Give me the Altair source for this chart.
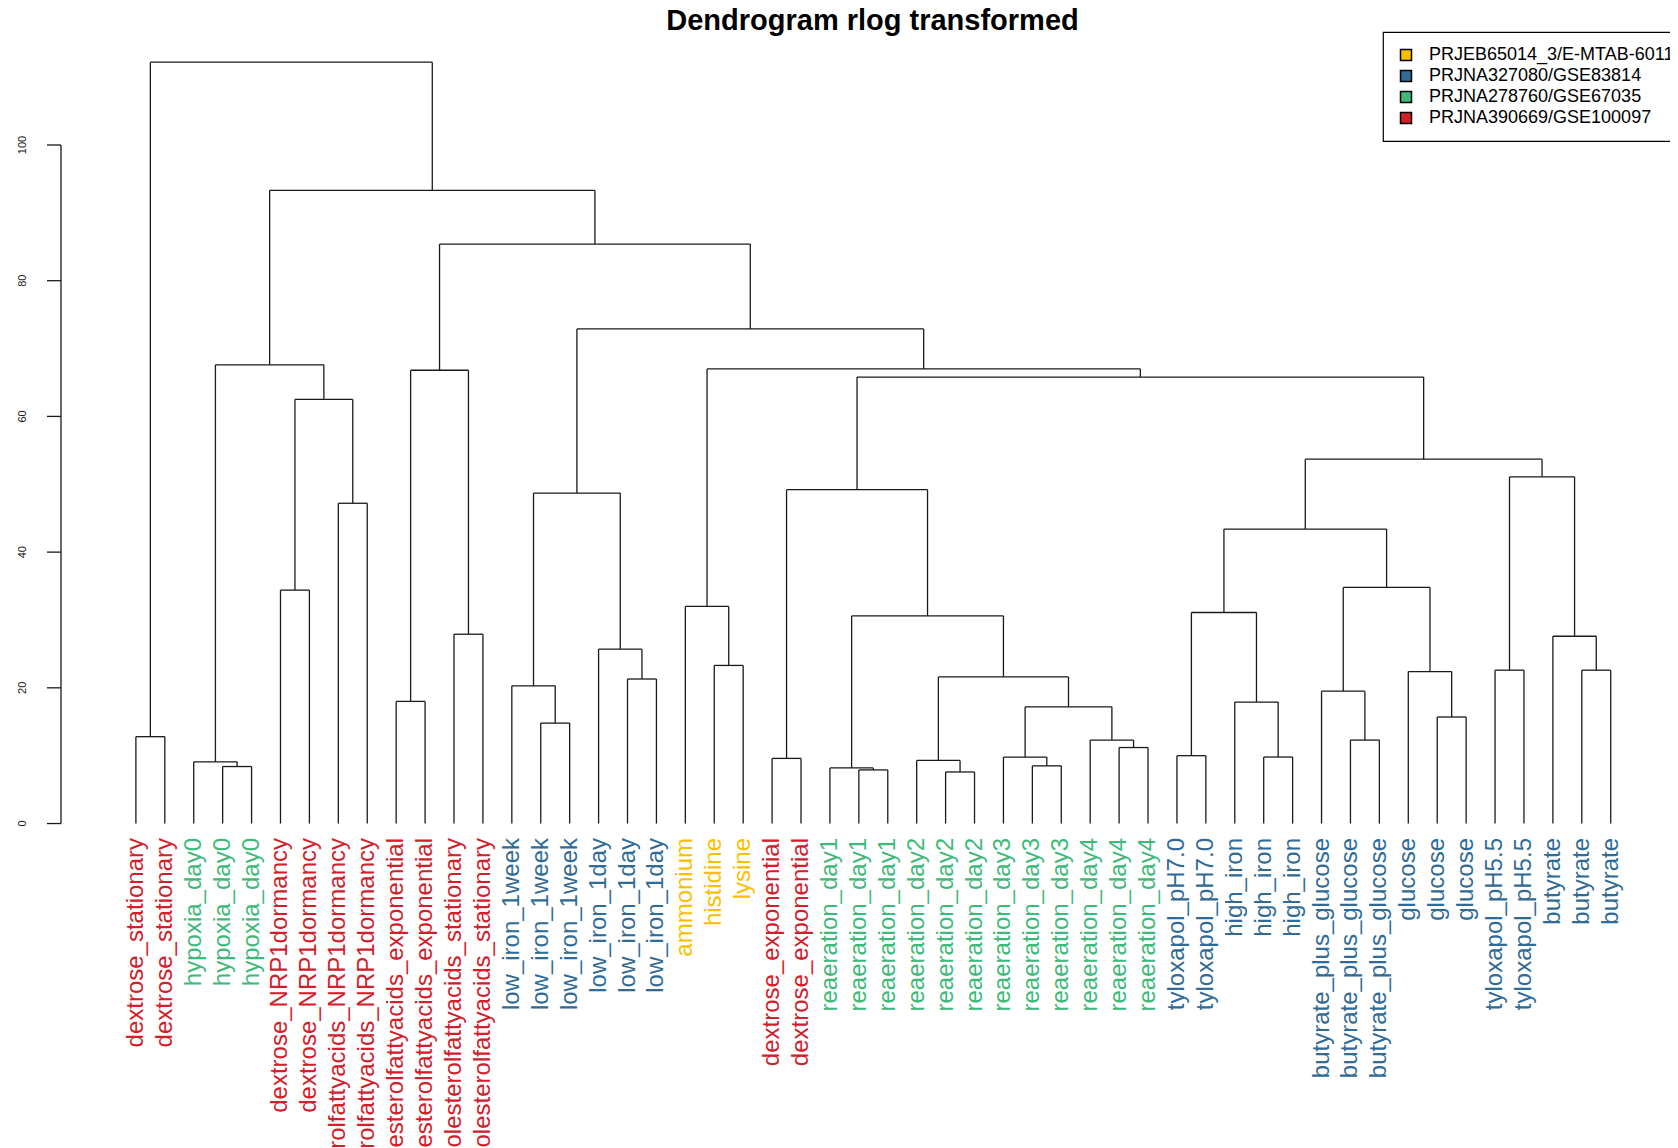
import altair as alt
import pandas as pd

# ---------------- data ----------------
leaf_labels = [
    "dextrose_stationary", "dextrose_stationary",
    "hypoxia_day0", "hypoxia_day0", "hypoxia_day0",
    "dextrose_NRP1dormancy", "dextrose_NRP1dormancy",
    "cholesterolfattyacids_NRP1dormancy", "cholesterolfattyacids_NRP1dormancy",
    "cholesterolfattyacids_exponential", "cholesterolfattyacids_exponential",
    "cholesterolfattyacids_stationary", "cholesterolfattyacids_stationary",
    "low_iron_1week", "low_iron_1week", "low_iron_1week",
    "low_iron_1day", "low_iron_1day", "low_iron_1day",
    "ammonium", "histidine", "lysine",
    "dextrose_exponential", "dextrose_exponential",
    "reaeration_day1", "reaeration_day1", "reaeration_day1",
    "reaeration_day2", "reaeration_day2", "reaeration_day2",
    "reaeration_day3", "reaeration_day3", "reaeration_day3",
    "reaeration_day4", "reaeration_day4", "reaeration_day4",
    "tyloxapol_pH7.0", "tyloxapol_pH7.0",
    "high_iron", "high_iron", "high_iron",
    "butyrate_plus_glucose", "butyrate_plus_glucose", "butyrate_plus_glucose",
    "glucose", "glucose", "glucose",
    "tyloxapol_pH5.5", "tyloxapol_pH5.5",
    "butyrate", "butyrate", "butyrate",
]
# 0 = PRJEB65014_3, 1 = PRJNA327080, 2 = PRJNA278760, 3 = PRJNA390669
leaf_groups = [
    3, 3,
    2, 2, 2,
    3, 3,
    3, 3,
    3, 3,
    3, 3,
    1, 1, 1,
    1, 1, 1,
    0, 0, 0,
    3, 3,
    2, 2, 2,
    2, 2, 2,
    2, 2, 2,
    2, 2, 2,
    1, 1,
    1, 1, 1,
    1, 1, 1,
    1, 1, 1,
    1, 1,
    1, 1, 1,
]
group_names = ["PRJEB65014_3/E-MTAB-6011", "PRJNA327080/GSE83814",
               "PRJNA278760/GSE67035", "PRJNA390669/GSE100097"]
group_colors = ["#F8BF00", "#2F6B96", "#3DB97A", "#D2202A"]

# hclust-style merges: negative = leaf (1-based, display order), positive = earlier merge
merge_left = [-1, -4, -3, -6, -8, 4, 3, -10, -12, 8,
              -15, -14, -18, -17, 12, -21, -20, -23, -26, -25,
              -29, -28, -32, -31, -35, -34, 24, 22, 20, 18,
              -37, -40, -39, 31, -43, -42, -46, -45, 36, 34,
              -48, -51, -50, 41, 40, 30, 17, 15, 10, 7, 1]
merge_right = [-2, -5, 2, -7, -9, 5, 6, -11, -13, 9,
               -16, 11, -19, 13, 14, -22, 16, -24, -27, 19,
               -30, 21, -33, 23, -36, 25, 26, 27, 28, 29,
               -38, -41, 32, 33, -44, 35, -47, 37, 38, 39,
               -49, -52, 42, 43, 44, 45, 46, 47, 48, 49, 50]
merge_height = [12.8, 8.4, 9.1, 34.4, 47.2, 62.5, 67.6, 18.0, 27.9, 66.8,
                14.8, 20.3, 21.3, 25.7, 48.7, 23.3, 32.0, 9.6, 7.9, 8.2,
                7.6, 9.3, 8.5, 9.8, 11.2, 12.3, 17.2, 21.6, 30.6, 49.2,
                10.0, 9.8, 17.9, 31.1, 12.3, 19.5, 15.7, 22.4, 34.8, 43.4,
                22.6, 22.6, 27.6, 51.1, 53.7, 65.8, 67.0, 72.9, 85.4, 93.3, 112.2]

y_ticks = [0, 20, 40, 60, 80, 100]
title_text = "Dendrogram rlog transformed"

# ---------------- build segments from the tree ----------------
pos = {}
segs = []


def node(ref):
    if ref < 0:
        return float(-ref), 0.0
    return pos[ref], merge_height[ref - 1]


for k, (a, b, h) in enumerate(zip(merge_left, merge_right, merge_height), start=1):
    xa, ha = node(a)
    xb, hb = node(b)
    segs.append(dict(x=xa, x2=xa, y=ha, y2=h))
    segs.append(dict(x=xa, x2=xb, y=h, y2=h))
    segs.append(dict(x=xb, x2=xb, y=hb, y2=h))
    pos[k] = (xa + xb) / 2

seg_df = pd.DataFrame(segs)
leaf_df = pd.DataFrame({
    "pos": list(range(1, len(leaf_labels) + 1)),
    "label": leaf_labels,
    "group": [group_names[g] for g in leaf_groups],
})
tick_df = pd.DataFrame({"v": y_ticks})
axis_df = pd.DataFrame({"y": [min(y_ticks)], "y2": [max(y_ticks)]})

x_scale = alt.Scale(domain=[-1.59, 54.05], nice=False, zero=False)
y_scale = alt.Scale(domain=[-4.49, 116.8], nice=False, zero=False)
FONT = "Liberation Sans"

tree = alt.Chart(seg_df).mark_rule(color="#1a1a1a", strokeWidth=1.3).encode(
    x=alt.X("x:Q", scale=x_scale, axis=None),
    x2="x2:Q",
    y=alt.Y("y:Q", scale=y_scale, axis=None),
    y2="y2:Q",
)

labels = alt.Chart(leaf_df).mark_text(
    angle=270, align="right", baseline="middle", fontSize=24, font=FONT
).encode(
    x=alt.X("pos:Q", scale=x_scale, axis=None),
    y=alt.value(807),
    text="label:N",
    color=alt.Color(
        "group:N",
        scale=alt.Scale(domain=group_names, range=group_colors),
        legend=alt.Legend(
            title=None, orient="none", legendX=1322, legendY=1,
            strokeColor="black", padding=14,
            symbolType="square", symbolSize=121, symbolStrokeColor="black",
            symbolStrokeWidth=1.5, symbolOpacity=1,
            labelFont=FONT, labelFontSize=18, labelColor="black",
            labelOffset=14, rowPadding=3, labelLimit=400,
        ),
    ),
)

axis_line = alt.Chart(axis_df).mark_rule(color="#1a1a1a", strokeWidth=1.3).encode(
    x=alt.value(0),
    y=alt.Y("y:Q", scale=y_scale, axis=None),
    y2="y2:Q",
)
ticks = alt.Chart(tick_df).mark_rule(color="#1a1a1a", strokeWidth=1.3).encode(
    x=alt.value(-14), x2=alt.value(0),
    y=alt.Y("v:Q", scale=y_scale, axis=None),
)
tick_labels = alt.Chart(tick_df).mark_text(
    angle=270, align="center", baseline="middle", fontSize=11, font=FONT, color="#222"
).encode(
    x=alt.value(-38),
    y=alt.Y("v:Q", scale=y_scale, axis=None),
    text="v:Q",
)

chart = alt.layer(tree, axis_line, ticks, tick_labels, labels).properties(
    width=1609,
    height=823,
    padding={"left": 53, "top": 23, "right": 0, "bottom": 294},
    autosize=alt.AutoSizeParams(type="none"),
    title=alt.TitleParams(
        title_text, fontSize=29, font=FONT, fontWeight="bold", color="black",
        anchor="middle", dx=7, dy=8, offset=3,
    ),
).configure_view(stroke=None).configure_legend(strokeWidth=1.2)

chart.save("out.html", embed_options={"renderer": "svg", "actions": False})
